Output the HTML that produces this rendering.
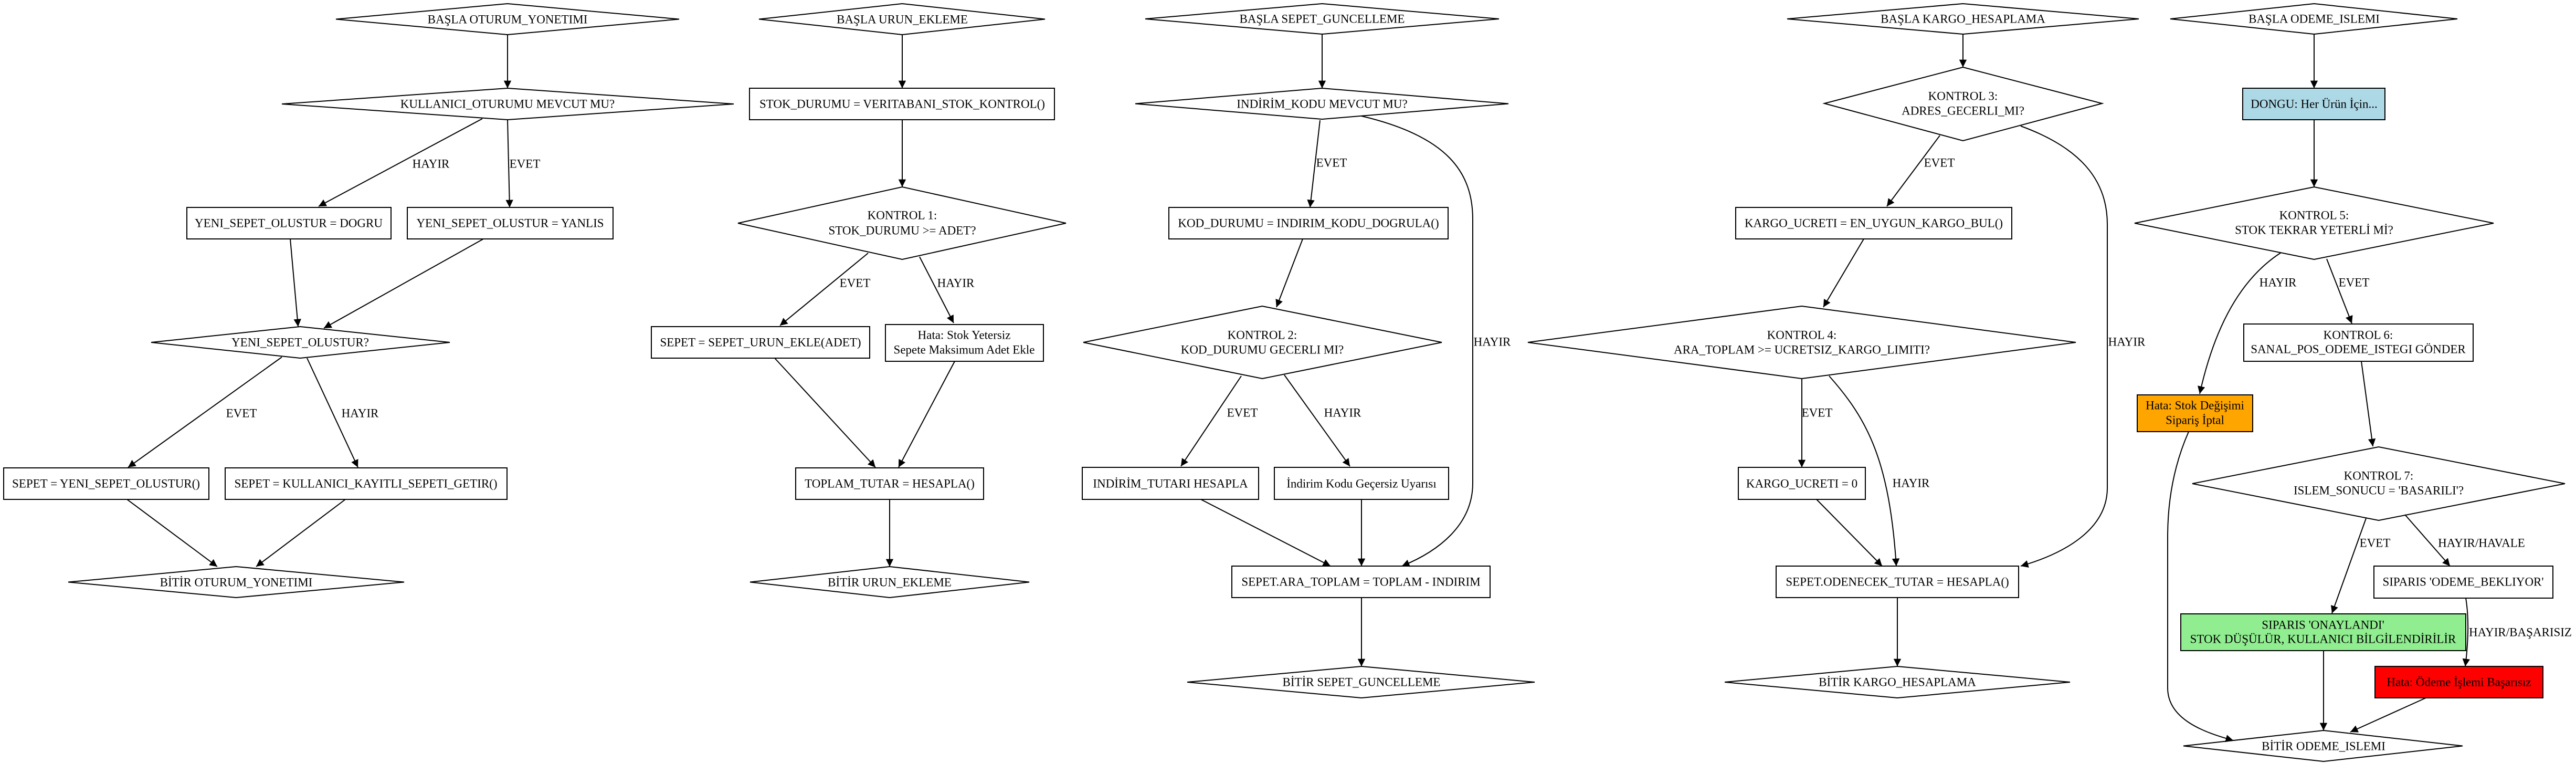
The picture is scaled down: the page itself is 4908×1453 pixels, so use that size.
<!DOCTYPE html>
<html><head><meta charset="utf-8"><style>
html,body{margin:0;padding:0;background:#fff;}
svg{display:block;}
text{font-family:"Liberation Serif","DejaVu Serif",serif;font-size:23px;fill:#000;text-anchor:middle;dominant-baseline:central;}
.s{fill:none;stroke:#000;stroke-width:2;}
.n{fill:#fff;stroke:#000;stroke-width:2;}
.e{fill:none;stroke:#000;stroke-width:2;marker-end:url(#a);}
</style></head><body>
<svg width="4908" height="1453" viewBox="0 0 4908 1453" xmlns="http://www.w3.org/2000/svg">
<defs><marker id="a" viewBox="0 0 10 10" refX="10" refY="5" markerWidth="8" markerHeight="8" markerUnits="userSpaceOnUse" orient="auto" style="overflow:visible"><path d="M0,0 L10,5 L0,10 z" fill="#000" transform="scale(1.8) translate(-4.4,-2.2)"/></marker></defs>
<rect width="4908" height="1453" fill="#fff"/>

<!-- Column 1 -->
<polygon class="n" points="640,36.5 967,7 1294,36.5 967,66"/><text x="967" y="37">BAŞLA OTURUM_YONETIMI</text>
<polygon class="n" points="537,198 967,168 1398,198 967,228"/><text x="967" y="198">KULLANICI_OTURUMU MEVCUT MU?</text>
<rect class="n" x="356" y="395" width="389" height="60"/><text x="550" y="425">YENI_SEPET_OLUSTUR = DOGRU</text>
<rect class="n" x="776" y="395" width="392" height="60"/><text x="972" y="425">YENI_SEPET_OLUSTUR = YANLIS</text>
<polygon class="n" points="288,652 572,622 857,652 572,682"/><text x="572" y="652">YENI_SEPET_OLUSTUR?</text>
<rect class="n" x="7" y="891" width="391" height="60"/><text x="202" y="921">SEPET = YENI_SEPET_OLUSTUR()</text>
<rect class="n" x="429" y="891" width="537" height="60"/><text x="697" y="921">SEPET = KULLANICI_KAYITLI_SEPETI_GETIR()</text>
<polygon class="n" points="130,1108.5 450,1079 770,1108.5 450,1138"/><text x="450" y="1109">BİTİR OTURUM_YONETIMI</text>
<line class="e" x1="967" y1="66" x2="967" y2="168"/>
<line class="e" x1="919" y1="226" x2="607" y2="393"/>
<line class="e" x1="967" y1="228" x2="971" y2="395"/>
<line class="e" x1="553" y1="455" x2="568" y2="622"/>
<line class="e" x1="921" y1="455" x2="617" y2="625"/>
<line class="e" x1="537" y1="680" x2="244" y2="890"/>
<line class="e" x1="585" y1="682" x2="682" y2="890"/>
<line class="e" x1="242" y1="951" x2="414" y2="1079"/>
<line class="e" x1="658" y1="951" x2="488" y2="1079"/>
<text x="821" y="312">HAYIR</text><text x="1000" y="312">EVET</text>
<text x="460" y="787">EVET</text><text x="686" y="787">HAYIR</text>

<!-- Column 2 -->
<polygon class="n" points="1446,36.5 1719,7 1991,36.5 1719,66"/><text x="1719" y="37">BAŞLA URUN_EKLEME</text>
<rect class="n" x="1428" y="168" width="581" height="60"/><text x="1719" y="198">STOK_DURUMU = VERITABANI_STOK_KONTROL()</text>
<polygon class="n" points="1406,425 1719,356 2031,425 1719,494"/><text x="1719" y="410">KONTROL 1:</text><text x="1719" y="439">STOK_DURUMU &gt;= ADET?</text>
<rect class="n" x="1241" y="622" width="416" height="60"/><text x="1449" y="652">SEPET = SEPET_URUN_EKLE(ADET)</text>
<rect class="n" x="1687" y="618" width="301" height="70"/><text x="1837" y="638">Hata: Stok Yetersiz</text><text x="1837" y="666">Sepete Maksimum Adet Ekle</text>
<rect class="n" x="1516" y="891" width="358" height="60"/><text x="1695" y="921">TOPLAM_TUTAR = HESAPLA()</text>
<polygon class="n" points="1429,1108.5 1695,1079 1961,1108.5 1695,1138"/><text x="1695" y="1109">BİTİR URUN_EKLEME</text>
<line class="e" x1="1719" y1="66" x2="1719" y2="168"/>
<line class="e" x1="1719" y1="228" x2="1719" y2="356"/>
<line class="e" x1="1654" y1="482" x2="1486" y2="620"/>
<line class="e" x1="1752" y1="489" x2="1817" y2="615"/>
<line class="e" x1="1476" y1="682" x2="1668" y2="890"/>
<line class="e" x1="1819" y1="688" x2="1712" y2="890"/>
<line class="e" x1="1695" y1="951" x2="1695" y2="1079"/>
<text x="1629" y="539">EVET</text><text x="1821" y="539">HAYIR</text>

<!-- Column 3 -->
<polygon class="n" points="2182,36 2519,7 2856,36 2519,65"/><text x="2519" y="36">BAŞLA SEPET_GUNCELLEME</text>
<polygon class="n" points="2163,197.5 2519,168 2874,197.5 2519,227"/><text x="2519" y="198">INDİRİM_KODU MEVCUT MU?</text>
<rect class="n" x="2227" y="395" width="532" height="60"/><text x="2493" y="425">KOD_DURUMU = INDIRIM_KODU_DOGRULA()</text>
<polygon class="n" points="2064,652 2405,583 2747,652 2405,721"/><text x="2405" y="638">KONTROL 2:</text><text x="2405" y="666">KOD_DURUMU GECERLI MI?</text>
<rect class="n" x="2062" y="890" width="336" height="61"/><text x="2230" y="921">INDİRİM_TUTARI HESAPLA</text>
<rect class="n" x="2428" y="890" width="332" height="61"/><text x="2594" y="921">İndirim Kodu Geçersiz Uyarısı</text>
<rect class="n" x="2347" y="1078" width="492" height="60"/><text x="2593" y="1108">SEPET.ARA_TOPLAM = TOPLAM - INDIRIM</text>
<polygon class="n" points="2262,1299 2594,1269 2924,1299 2594,1329"/><text x="2594" y="1299">BİTİR SEPET_GUNCELLEME</text>
<line class="e" x1="2519" y1="65" x2="2519" y2="168"/>
<line class="e" x1="2515" y1="229" x2="2496" y2="395"/>
<path class="e" d="M2594,221 C2760,260 2806,330 2806,418 L2806,920 C2806,1000 2740,1050 2671,1078"/>
<line class="e" x1="2482" y1="455" x2="2432" y2="585"/>
<line class="e" x1="2365" y1="716" x2="2250" y2="888"/>
<line class="e" x1="2447" y1="714" x2="2572" y2="888"/>
<line class="e" x1="2288" y1="951" x2="2535" y2="1078"/>
<line class="e" x1="2594" y1="951" x2="2594" y2="1078"/>
<line class="e" x1="2594" y1="1138" x2="2594" y2="1269"/>
<text x="2537" y="310">EVET</text><text x="2843" y="651">HAYIR</text>
<text x="2367" y="786">EVET</text><text x="2558" y="786">HAYIR</text>

<!-- Column 4 -->
<polygon class="n" points="3405,36 3740,7 4075,36 3740,65"/><text x="3740" y="36">BAŞLA KARGO_HESAPLAMA</text>
<polygon class="n" points="3476,197 3740,128 4005,197 3740,268"/><text x="3740" y="183">KONTROL 3:</text><text x="3740" y="211">ADRES_GECERLI_MI?</text>
<rect class="n" x="3307" y="395" width="526" height="60"/><text x="3570" y="425">KARGO_UCRETI = EN_UYGUN_KARGO_BUL()</text>
<polygon class="n" points="2911,652 3433,583 3955,652 3433,721"/><text x="3433" y="638">KONTROL 4:</text><text x="3433" y="666">ARA_TOPLAM &gt;= UCRETSIZ_KARGO_LIMITI?</text>
<rect class="n" x="3312" y="890" width="242" height="61"/><text x="3433" y="921">KARGO_UCRETI = 0</text>
<rect class="n" x="3384" y="1078" width="462" height="60"/><text x="3615" y="1108">SEPET.ODENECEK_TUTAR = HESAPLA()</text>
<polygon class="n" points="3286,1299 3615,1269 3944,1299 3615,1329"/><text x="3615" y="1299">BİTİR KARGO_HESAPLAMA</text>
<line class="e" x1="3740" y1="65" x2="3740" y2="128"/>
<line class="e" x1="3696" y1="258" x2="3595" y2="393"/>
<path class="e" d="M3850,240 C3960,280 4015,340 4015,427 L4015,929 C4015,1010 3930,1055 3850,1078"/>
<line class="e" x1="3551" y1="455" x2="3474" y2="585"/>
<line class="e" x1="3433" y1="721" x2="3433" y2="890"/>
<path class="e" d="M3485,716 C3560,800 3600,880 3613,1078"/>
<line class="e" x1="3461" y1="951" x2="3586" y2="1078"/>
<line class="e" x1="3615" y1="1138" x2="3615" y2="1269"/>
<text x="3695" y="310">EVET</text><text x="4052" y="651">HAYIR</text>
<text x="3462" y="786">EVET</text><text x="3641" y="920">HAYIR</text>

<!-- Column 5 -->
<polygon class="n" points="4135,36 4409,7 4682,36 4409,65"/><text x="4409" y="36">BAŞLA ODEME_ISLEMI</text>
<rect class="n" x="4273" y="168" width="271" height="60" style="fill:#add8e6"/><text x="4409" y="198">DONGU: Her Ürün İçin...</text>
<polygon class="n" points="4067,425 4409,356 4751,425 4409,494"/><text x="4409" y="410">KONTROL 5:</text><text x="4409" y="438">STOK TEKRAR YETERLİ Mİ?</text>
<rect class="n" x="4072" y="752" width="220" height="70" style="fill:#ffa500"/><text x="4182" y="772">Hata: Stok Değişimi</text><text x="4182" y="800">Sipariş İptal</text>
<rect class="n" x="4275" y="617" width="437" height="71"/><text x="4493" y="638">KONTROL 6:</text><text x="4493" y="665">SANAL_POS_ODEME_ISTEGI GÖNDER</text>
<polygon class="n" points="4177,921 4532,851 4887,921 4532,991"/><text x="4532" y="906">KONTROL 7:</text><text x="4532" y="934">ISLEM_SONUCU = 'BASARILI'?</text>
<rect class="n" x="4523" y="1078" width="341" height="61"/><text x="4693" y="1108">SIPARIS 'ODEME_BEKLIYOR'</text>
<rect class="n" x="4155" y="1169" width="543" height="70" style="fill:#90ee90"/><text x="4426" y="1190">SIPARIS 'ONAYLANDI'</text><text x="4426" y="1217">STOK DÜŞÜLÜR, KULLANICI BİLGİLENDİRİLİR</text>
<rect class="n" x="4525" y="1269" width="320" height="60" style="fill:#ff0000"/><text x="4685" y="1299">Hata: Ödeme İşlemi Başarısız</text>
<polygon class="n" points="4160,1420.5 4427,1391 4692,1420.5 4427,1450"/><text x="4427" y="1421">BİTİR ODEME_ISLEMI</text>
<line class="e" x1="4409" y1="65" x2="4409" y2="168"/>
<line class="e" x1="4409" y1="228" x2="4409" y2="356"/>
<path class="e" d="M4346,481 C4270,530 4220,620 4191,750"/>
<line class="e" x1="4433" y1="493" x2="4481" y2="616"/>
<line class="e" x1="4499" y1="688" x2="4521" y2="850"/>
<line class="e" x1="4508" y1="987" x2="4443" y2="1168"/>
<line class="e" x1="4582" y1="980" x2="4668" y2="1078"/>
<path class="e" d="M4698,1139 C4705,1180 4702,1230 4697,1269"/>
<line class="e" x1="4427" y1="1239" x2="4427" y2="1391"/>
<line class="e" x1="4622" y1="1329" x2="4478" y2="1394"/>
<path class="e" d="M4170,822 C4140,890 4130,960 4130,1022 L4130,1310 C4130,1370 4200,1395 4255,1410"/>
<text x="4340" y="538">HAYIR</text><text x="4485" y="538">EVET</text>
<text x="4525" y="1034">EVET</text><text x="4728" y="1034">HAYIR/HAVALE</text>
<text x="4802" y="1204">HAYIR/BAŞARISIZ</text>
</svg>
</body></html>
